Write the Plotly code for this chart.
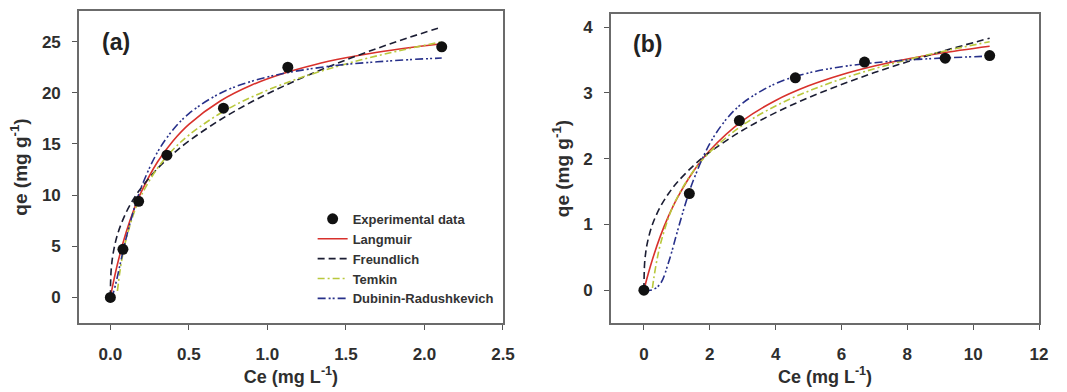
import plotly.graph_objects as go

# ---------------- Panel (a) ----------------
a_exp_x = [0.0, 0.08, 0.18, 0.36, 0.72, 1.13, 2.11]
a_exp_y = [0.0, 4.7, 9.4, 13.9, 18.5, 22.5, 24.5]

a_lang_x = [0, 0.005, 0.02, 0.05, 0.1, 0.15, 0.2, 0.3, 0.4, 0.5, 0.7, 0.9, 1.1, 1.3, 1.5, 1.7, 1.9, 2.11]
a_lang_y = [0, 0.40, 1.54, 3.56, 6.34, 8.58, 10.41, 13.24, 15.32, 16.92, 19.20, 20.76, 21.89, 22.75, 23.42, 23.97, 24.41, 24.80]

a_freu_x = [0, 0.005, 0.02, 0.05, 0.1, 0.15, 0.2, 0.3, 0.4, 0.5, 0.7, 0.9, 1.1, 1.3, 1.5, 1.7, 1.9, 2.11]
a_freu_y = [0, 2.66, 4.50, 6.38, 8.29, 9.68, 10.79, 12.59, 14.05, 15.29, 17.37, 19.12, 20.63, 21.99, 23.21, 24.35, 25.40, 26.43]

a_temk_x = [0.045, 0.06, 0.08, 0.1, 0.15, 0.2, 0.3, 0.4, 0.5, 0.7, 0.9, 1.1, 1.3, 1.5, 1.7, 1.9, 2.11]
a_temk_y = [0.63, 2.45, 4.27, 5.68, 8.25, 10.07, 12.63, 14.46, 15.87, 18.00, 19.59, 20.86, 21.92, 22.82, 23.62, 24.32, 24.98]

a_dr_x = [0, 0.01, 0.02, 0.04, 0.06, 0.08, 0.1, 0.15, 0.2, 0.3, 0.4, 0.5, 0.7, 0.9, 1.1, 1.3, 1.5, 1.7, 1.9, 2.11]
a_dr_y = [0, 0.12, 0.51, 1.71, 3.09, 4.46, 5.77, 8.61, 10.89, 14.20, 16.41, 17.97, 19.96, 21.13, 21.89, 22.40, 22.78, 23.03, 23.24, 23.40]

# ---------------- Panel (b) ----------------
b_exp_x = [0.0, 1.38, 2.9, 4.6, 6.7, 9.15, 10.5]
b_exp_y = [0.0, 1.47, 2.58, 3.23, 3.47, 3.53, 3.57]

b_lang_x = [0, 0.1, 0.25, 0.5, 0.75, 1, 1.5, 2, 3, 4, 5, 6, 7, 8, 9, 10.5]
b_lang_y = [0, 0.193, 0.452, 0.822, 1.130, 1.390, 1.806, 2.124, 2.578, 2.886, 3.109, 3.278, 3.410, 3.517, 3.604, 3.710]

b_freu_x = [0, 0.02, 0.05, 0.1, 0.25, 0.5, 0.75, 1, 1.5, 2, 3, 4, 5, 6, 7, 8, 9, 10.5]
b_freu_y = [0, 0.395, 0.550, 0.708, 0.987, 1.269, 1.471, 1.633, 1.892, 2.100, 2.433, 2.701, 2.929, 3.129, 3.310, 3.474, 3.625, 3.834]

b_temk_x = [0.26, 0.3, 0.4, 0.5, 0.75, 1, 1.5, 2, 3, 4, 5, 6, 7, 8, 9, 10.5]
b_temk_y = [0.033, 0.178, 0.470, 0.696, 1.106, 1.398, 1.809, 2.100, 2.511, 2.802, 3.028, 3.213, 3.369, 3.504, 3.624, 3.780]

b_dr_x = [0, 0.25, 0.5, 0.75, 1, 1.25, 1.5, 2, 2.5, 3, 4, 5, 6, 7, 8, 9, 10.5]
b_dr_y = [0, 0.002, 0.098, 0.424, 0.863, 1.295, 1.668, 2.229, 2.599, 2.847, 3.143, 3.304, 3.399, 3.460, 3.501, 3.530, 3.561]

a_xticks = [0.0, 0.5, 1.0, 1.5, 2.0, 2.5]
a_xticklabels = ["0.0", "0.5", "1.0", "1.5", "2.0", "2.5"]
a_yticks = [0, 5, 10, 15, 20, 25]
b_xticks = [0, 2, 4, 6, 8, 10, 12]
b_yticks = [0, 1, 2, 3, 4]

C_LANG = "#d8312c"
C_FREU = "#1b1d33"
C_TEMK = "#b9c83c"
C_DR = "#27308a"

FONT = "Liberation Sans"
TXT = "#2e2e2e"

fig = go.Figure()

def add_panel(xa, ya, ex, ey, lx, ly, fx, fy, tx, ty, dx, dy):
    fig.add_trace(go.Scatter(x=lx, y=ly, mode="lines", name="Langmuir", showlegend=False,
                             line=dict(color=C_LANG, width=1.6, shape="spline"), xaxis=xa, yaxis=ya))
    fig.add_trace(go.Scatter(x=fx, y=fy, mode="lines", name="Freundlich", showlegend=False,
                             line=dict(color=C_FREU, width=1.6, dash="7px,4px", shape="spline"), xaxis=xa, yaxis=ya))
    fig.add_trace(go.Scatter(x=tx, y=ty, mode="lines", name="Temkin", showlegend=False,
                             line=dict(color=C_TEMK, width=1.6, dash="7px,3px,2px,3px", shape="spline"), xaxis=xa, yaxis=ya))
    fig.add_trace(go.Scatter(x=dx, y=dy, mode="lines", name="Dubinin-Radushkevich", showlegend=False,
                             line=dict(color=C_DR, width=1.6, dash="8px,3px,2px,2px,2px,3px", shape="spline"), xaxis=xa, yaxis=ya))
    fig.add_trace(go.Scatter(x=ex, y=ey, mode="markers", name="Experimental data", showlegend=False,
                             marker=dict(color="#111111", size=11), xaxis=xa, yaxis=ya))

add_panel("x", "y", a_exp_x, a_exp_y, a_lang_x, a_lang_y, a_freu_x, a_freu_y,
          a_temk_x, a_temk_y, a_dr_x, a_dr_y)
add_panel("x2", "y2", b_exp_x, b_exp_y, b_lang_x, b_lang_y, b_freu_x, b_freu_y,
          b_temk_x, b_temk_y, b_dr_x, b_dr_y)

# legend-only entries (in display order)
fig.add_trace(go.Scatter(x=[None], y=[None], mode="markers", name="Experimental data",
                         marker=dict(color="#111111", size=11), xaxis="x", yaxis="y"))
fig.add_trace(go.Scatter(x=[None], y=[None], mode="lines", name="Langmuir",
                         line=dict(color=C_LANG, width=1.6), xaxis="x", yaxis="y"))
fig.add_trace(go.Scatter(x=[None], y=[None], mode="lines", name="Freundlich",
                         line=dict(color=C_FREU, width=1.6, dash="7px,4px"), xaxis="x", yaxis="y"))
fig.add_trace(go.Scatter(x=[None], y=[None], mode="lines", name="Temkin",
                         line=dict(color=C_TEMK, width=1.6, dash="7px,3px,2px,3px"), xaxis="x", yaxis="y"))
fig.add_trace(go.Scatter(x=[None], y=[None], mode="lines", name="Dubinin-Radushkevich",
                         line=dict(color=C_DR, width=1.6, dash="8px,3px,2px,2px,2px,3px"), xaxis="x", yaxis="y"))

axis_common = dict(showline=True, linecolor="#6b6b6b", linewidth=1.5, mirror=True,
                   ticks="outside", ticklen=5, tickwidth=1, tickcolor="#555",
                   showgrid=False, zeroline=False, automargin=False,
                   tickfont=dict(family=FONT, size=17, color=TXT, weight="bold"))

XT_FONT = dict(family=FONT, size=18, color=TXT, weight="bold")
YT_FONT = dict(family=FONT, size=19, color=TXT, weight="bold")

fig.update_layout(
    width=1067, height=392,
    margin=dict(l=0, r=0, t=0, b=0),
    paper_bgcolor="white", plot_bgcolor="white",
    font=dict(family=FONT),
    xaxis=dict(domain=[0.074, 0.4714], range=[-0.2, 2.5], tickvals=a_xticks, ticktext=a_xticklabels,
               ticklabelstandoff=10, title=dict(text="Ce (mg L<sup>-1</sup>)", standoff=6, font=XT_FONT),
               anchor="y", **axis_common),
    yaxis=dict(domain=[0.176, 0.972], range=[-2.5, 28], tickvals=a_yticks, ticklabelstandoff=8,
               title=dict(text="qe (mg g<sup>-1</sup>)", standoff=9, font=YT_FONT), anchor="x", **axis_common),
    xaxis2=dict(domain=[0.5726, 0.9738], range=[-1, 12], tickvals=b_xticks, ticklabelstandoff=10,
                title=dict(text="Ce (mg L<sup>-1</sup>)", standoff=6, font=XT_FONT), anchor="y2", **axis_common),
    yaxis2=dict(domain=[0.176, 0.964], range=[-0.5, 4.2], tickvals=b_yticks, ticklabelstandoff=8,
                title=dict(text="qe (mg g<sup>-1</sup>)", standoff=9, font=YT_FONT), anchor="x2", **axis_common),
    legend=dict(x=0.293, y=0.48, xanchor="left", yanchor="top", bgcolor="rgba(0,0,0,0)",
                font=dict(family=FONT, size=13, color="#333", weight="bold"),
                tracegroupgap=0, itemwidth=30),
    showlegend=True,
    annotations=[
        dict(text="(a)", x=0.0935, y=0.893, xref="paper", yref="paper", xanchor="left", yanchor="middle",
             showarrow=False, font=dict(family=FONT, size=23, color="#222", weight="bold")),
        dict(text="(b)", x=0.5915, y=0.888, xref="paper", yref="paper", xanchor="left", yanchor="middle",
             showarrow=False, font=dict(family=FONT, size=23, color="#222", weight="bold")),
    ],
)

fig.write_html("out.html", config={"displayModeBar": False},
               post_script="document.body.style.margin='0';document.body.style.overflow='hidden';")
